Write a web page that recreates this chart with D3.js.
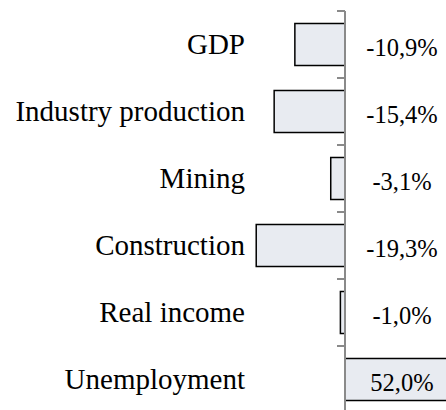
<!DOCTYPE html>
<html>
<head>
<meta charset="utf-8">
<script src="https://cdn.jsdelivr.net/npm/d3@7"></script>
<style>
body { margin: 0; background: #fff; }
svg { display: block; overflow: hidden; }
</style>
</head>
<body>
<svg id="chart" width="446" height="410"></svg>
<script>
// data
var categories = ["GDP", "Industry production", "Mining", "Construction", "Real income", "Unemployment"];
var values = [-10.9, -15.4, -3.1, -19.3, -1.0, 52.0];
var valueLabels = ["-10,9%", "-15,4%", "-3,1%", "-19,3%", "-1,0%", "52,0%"];

var FONT = "Liberation Serif";

var svg = d3.select("#chart");
var W = 446, H = 410;

var x0 = 345, unit = 4.6;
var x = d3.scaleLinear()
    .domain([-20, 60])
    .range([x0 - 20 * unit, x0 + 60 * unit]);

var gap = 0.373;
var y = d3.scaleBand()
    .domain(categories)
    .range([11, 413])
    .paddingInner(gap)
    .paddingOuter(gap / 2);

// bars
svg.selectAll("rect.bar")
    .data(values)
    .enter().append("rect")
    .attr("class", "bar")
    .attr("x", d => x(Math.min(0, d)))
    .attr("y", (d, i) => y(categories[i]))
    .attr("width", d => Math.abs(x(d) - x(0)))
    .attr("height", y.bandwidth())
    .style("fill", "#e8ebf1")
    .style("stroke", "#000")
    .style("stroke-width", 1.5);

// axis line + ticks at band edges
var step = y.step();
var edges = d3.range(categories.length + 1).map(i => 11 + i * step);
svg.append("line")
    .attr("x1", x(0)).attr("x2", x(0))
    .attr("y1", 11).attr("y2", H + 5)
    .style("stroke", "#8a8a8a")
    .style("stroke-width", 2);
svg.selectAll("line.tick")
    .data(edges)
    .enter().append("line")
    .attr("class", "tick")
    .attr("x1", x(0) - 8).attr("x2", x(0))
    .attr("y1", d => d).attr("y2", d => d)
    .style("stroke", "#8a8a8a")
    .style("stroke-width", 2);

// category labels
svg.selectAll("text.cat")
    .data(categories)
    .enter().append("text")
    .attr("class", "cat")
    .attr("x", 245)
    .attr("y", d => y(d) + y.bandwidth() / 2)
    .attr("dy", "0.33em")
    .attr("text-anchor", "end")
    .attr("font-family", FONT)
    .attr("font-size", 29)
    .attr("fill", "#000")
    .text(d => d);

// value labels
svg.selectAll("text.val")
    .data(valueLabels)
    .enter().append("text")
    .attr("class", "val")
    .attr("x", 402)
    .attr("y", (d, i) => y(categories[i]) + y.bandwidth() / 2 + 3)
    .attr("dy", "0.35em")
    .attr("text-anchor", "middle")
    .attr("font-family", FONT)
    .attr("font-size", 24.5)
    .attr("fill", "#000")
    .text(d => d);
</script>
</body>
</html>
